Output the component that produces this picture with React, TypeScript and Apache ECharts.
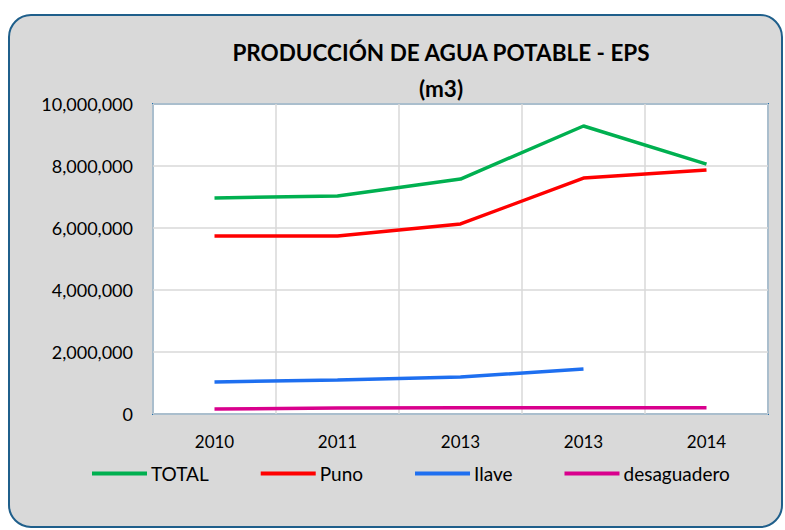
import React, { useEffect, useRef } from "react";
import * as echarts from "echarts";

const categories = ["2010", "2011", "2013", "2013", "2014"];
const totalValues = [6970000, 7030000, 7580000, 9290000, 8060000];
const punoValues = [5740000, 5740000, 6130000, 7610000, 7870000];
const ilaveValues: (number | null)[] = [1030000, 1100000, 1190000, 1450000, null];
const desaguaderoValues = [160000, 190000, 200000, 200000, 200000];
const seriesNames = ["TOTAL", "Puno", "Ilave", "desaguadero"];
const seriesColors = ["#00B050", "#FF0000", "#1E6FF0", "#D9008D"];

const FONT = "Lato";

export default function App() {
  const ref = useRef<HTMLDivElement>(null);
  useEffect(() => {
    if (!ref.current) return;
    const chart = echarts.init(ref.current, null, { renderer: "svg" });
    const dataSets = [totalValues, punoValues, ilaveValues, desaguaderoValues];
    chart.setOption({
      animation: false,
      textStyle: { fontFamily: FONT },
      graphic: [
        {
          type: "rect",
          z: -100,
          shape: { x: 9, y: 15, width: 773, height: 512, r: 22 },
          style: { fill: "#D9D9D9", stroke: "#1F5F8B", lineWidth: 2 },
        },
      ],
      title: {
        text: "PRODUCCIÓN DE AGUA POTABLE - EPS\n(m3)",
        left: 441,
        top: 34,
        padding: 0,
        textAlign: "center",
        textStyle: {
          fontFamily: FONT,
          fontWeight: "bold",
          fontSize: 22.5,
          lineHeight: 36,
          color: "#000",
        },
      },
      legend: {
        data: seriesNames,
        left: 92,
        top: 464,
        padding: 0,
        icon: "rect",
        itemWidth: 55,
        itemHeight: 4,
        itemGap: 52,
        textStyle: { fontFamily: FONT, fontSize: 19, color: "#000", padding: [0, 0, 0, -1] },
      },
      grid: {
        left: 153,
        right: 17,
        top: 104,
        bottom: 116,
        show: true,
        backgroundColor: "#FFFFFF",
        borderColor: "#2270AD",
        borderWidth: 2,
        containLabel: false,
      },
      xAxis: {
        type: "category",
        data: categories,
        boundaryGap: true,
        axisLine: { show: false },
        axisTick: { show: false },
        axisLabel: { fontFamily: FONT, fontSize: 17, color: "#000", margin: 19 },
        splitLine: { show: true, lineStyle: { color: "#D9D9D9", width: 1.5 } },
      },
      yAxis: {
        type: "value",
        min: 0,
        max: 10000000,
        interval: 2000000,
        axisLine: { show: false },
        axisTick: { show: false },
        axisLabel: {
          fontFamily: FONT,
          fontSize: 18,
          color: "#000",
          margin: 20,
          formatter: (v: number) => v.toLocaleString("en-US"),
        },
        splitLine: { show: true, lineStyle: { color: "#D9D9D9", width: 1.5 } },
      },
      series: seriesNames.map((name, i) => ({
        name,
        type: "line",
        data: dataSets[i],
        color: seriesColors[i],
        showSymbol: false,
        symbol: "none",
        lineStyle: { width: 3.5, color: seriesColors[i] },
        connectNulls: false,
      })),
    });
    return () => chart.dispose();
  }, []);
  return (
    <div
      ref={ref}
      style={{ position: "absolute", left: 0, top: 0, width: 785, height: 530, background: "#FFFFFF" }}
    />
  );
}
